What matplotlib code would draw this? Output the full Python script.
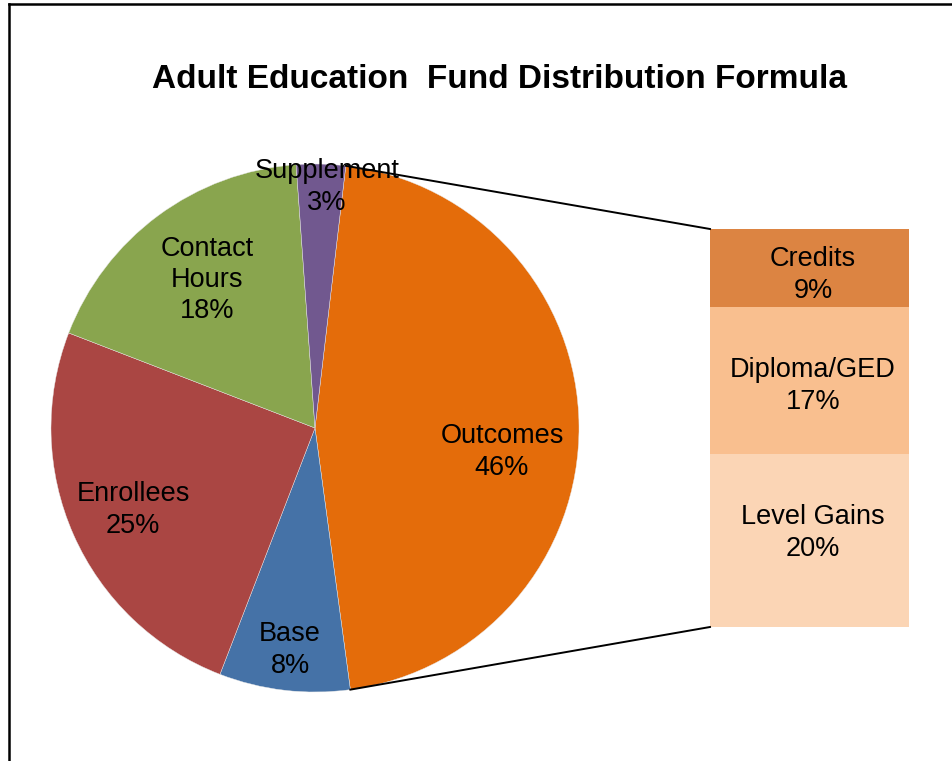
import numpy as np
import matplotlib
matplotlib.use("Agg")
import matplotlib.pyplot as plt
from matplotlib.lines import Line2D

plt.rcParams['font.family'] = ['Liberation Sans', 'DejaVu Sans']

# ---- data ----
pie_labels = ["Outcomes", "Base", "Enrollees", "Contact\nHours", "Supplement"]
pie_values = [46, 8, 25, 18, 3]
bar_labels = ["Level Gains", "Diploma/GED", "Credits"]   # bottom to top
bar_values = [20, 17, 9]
title = "Adult Education  Fund Distribution Formula"

pie_colors = ["#E46C0A", "#4572A7", "#AA4643", "#89A54E", "#71588F"]
bar_colors = ["#FBD5B5", "#F9BF8F", "#DC8442"]

W, H = 952, 761
fig = plt.figure(figsize=(W / 100, H / 100), dpi=100)
ax = fig.add_axes([0, 0, 1, 1])
ax.set_zorder(2)
ax.patch.set_visible(False)

def py(y):  # pixel-from-top to data y
    return H - y

cx, cy, R = 315, py(428), 264
start = 83.3
wedges, _ = ax.pie(pie_values, colors=pie_colors, startangle=start, counterclock=False,
                   center=(cx, cy), radius=R, frame=True,
                   wedgeprops=dict(edgecolor="#e8e8e8", linewidth=0.3))
ax.set_xlim(0, W)
ax.set_ylim(0, H)
ax.set_aspect('equal')
ax.axis('off')

fs = 19.5
ls = 1.27
label_pos = {
    "Outcomes": (502, 452),
    "Base": (290, 650),
    "Enrollees": (133, 510),
    "Contact\nHours": (207, 280),
    "Supplement": (327, 187),
}
total = sum(pie_values)
for lab, v in zip(pie_labels, pie_values):
    x, y = label_pos[lab]
    ax.text(x, py(y), f"{lab}\n{round(100 * v / total)}%", ha='center', va='center',
            fontsize=fs, linespacing=ls, zorder=5)

# ---- bar of pie ----
bx0, by_top, bx1, by_bot = 710, 229, 909, 627
ax2 = fig.add_axes([bx0 / W, (H - by_bot) / H, (bx1 - bx0) / W, (by_bot - by_top) / H])
ax2.set_zorder(1)
bottoms = np.concatenate([[0], np.cumsum(bar_values)[:-1]])
ax2.bar([0] * len(bar_values), bar_values, bottom=bottoms, color=bar_colors, width=1.0,
        edgecolor='none')
ax2.set_xlim(-0.5, 0.5)
ax2.set_ylim(0, sum(bar_values))
ax2.axis('off')
bar_label_y = {"Level Gains": 533, "Diploma/GED": 386, "Credits": 275}
for lab, v in zip(bar_labels, bar_values):
    ax.text(813, py(bar_label_y[lab]), f"{lab}\n{v}%", ha='center', va='center',
            fontsize=fs, linespacing=ls, zorder=5)

# ---- connector lines from Outcomes wedge edges to bar corners ----
w0 = wedges[0]
a1, a2 = np.deg2rad(w0.theta1), np.deg2rad(w0.theta2)
p_lo = (cx + R * np.cos(a1), cy + R * np.sin(a1))
p_hi = (cx + R * np.cos(a2), cy + R * np.sin(a2))
top_pt, bot_pt = (p_hi, p_lo) if p_hi[1] > p_lo[1] else (p_lo, p_hi)
ax.plot([top_pt[0], bx0], [top_pt[1], py(by_top)], color='black', lw=1.4, zorder=6)
ax.plot([bot_pt[0], bx0], [bot_pt[1], py(by_bot)], color='black', lw=1.4, zorder=6)

# ---- title ----
ax.text(499, py(79), title, ha='center', va='center', fontsize=24, fontweight='bold')

# ---- chart border ----
fig.add_artist(Line2D([9 / W, 9 / W], [0, (H - 4) / H], color='black', lw=1.8,
                      transform=fig.transFigure))
fig.add_artist(Line2D([9 / W, 1], [(H - 4) / H, (H - 4) / H], color='black', lw=1.8,
                      transform=fig.transFigure))

fig.savefig("out.png", dpi=100)
